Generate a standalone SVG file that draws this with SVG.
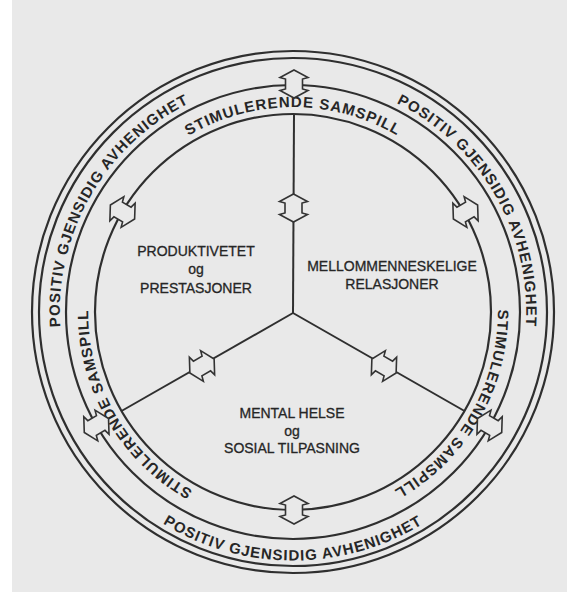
<svg xmlns="http://www.w3.org/2000/svg" xmlns:xlink="http://www.w3.org/1999/xlink" width="569" height="598" viewBox="0 0 569 598">
<style>
.ring{fill:none;stroke:#2f2f2f;stroke-width:2.2}
.spoke{fill:none;stroke:#2f2f2f;stroke-width:2}
.arr{fill:#e9e9e9;stroke:#333333;stroke-width:1.6;stroke-linejoin:miter}
.band{font-family:"Liberation Sans",Arial,sans-serif;font-weight:bold;font-size:15px;letter-spacing:1px;fill:#262626}
.lbl{font-family:"Liberation Sans",Arial,sans-serif;font-size:14px;fill:#262626;stroke:#262626;stroke-width:0.3;text-anchor:middle}
</style>
<defs>
<path id="dbl" d="M0,-14 L14,-6.5 L8.5,-5 L8.5,5 L14,6.5 L0,14 L-14,6.5 L-8.5,5 L-8.5,-5 L-14,-6.5 Z"/>
<path id="m0" d="M88.8,294.1 A205,205 0 0 1 497.2,294.1"/>
<path id="m120" d="M410.6,144.1 A205,205 0 0 1 206.4,497.8"/>
<path id="m240" d="M379.6,497.8 A205,205 0 0 1 175.4,144.1"/>
<path id="o60" d="M194.5,100.8 A233,233 0 0 1 426.6,502.9"/>
<path id="o300" d="M159.4,502.9 A233,233 0 0 1 391.5,100.8"/>
<path id="o180" d="M45.9,333.6 A248,248 0 0 0 540.1,333.6"/>
</defs>
<rect x="0" y="0" width="569" height="598" fill="#ffffff"/>
<rect x="12" y="0" width="555" height="592" fill="#e9e9e9"/>
<g id="rings">
<circle class="ring" cx="293" cy="312" r="261"/>
<circle class="ring" cx="293" cy="312" r="254"/>
<circle class="ring" cx="293" cy="312" r="227"/>
<circle class="ring" cx="293" cy="312" r="198"/>
</g>
<g id="band-texts">
<text class="band"><textPath href="#m0" startOffset="50%" text-anchor="middle">STIMULERENDE SAMSPILL</textPath></text>
<text class="band"><textPath href="#m120" startOffset="50%" text-anchor="middle">STIMULERENDE SAMSPILL</textPath></text>
<text class="band"><textPath href="#m240" startOffset="50%" text-anchor="middle">STIMULERENDE SAMSPILL</textPath></text>
<text class="band"><textPath href="#o60" startOffset="50%" text-anchor="middle">POSITIV GJENSIDIG AVHENIGHET</textPath></text>
<text class="band"><textPath href="#o300" startOffset="50%" text-anchor="middle">POSITIV GJENSIDIG AVHENIGHET</textPath></text>
<text class="band"><textPath href="#o180" startOffset="50%" text-anchor="middle">POSITIV GJENSIDIG AVHENIGHET</textPath></text>
</g>
<g id="connectors">
<line class="spoke" x1="293" y1="313" x2="294" y2="114"/>
<line class="spoke" x1="293" y1="313" x2="464.5" y2="411"/>
<line class="spoke" x1="293" y1="313" x2="121.5" y2="411"/>
<use href="#dbl" class="arr" transform="translate(293.5,208)"/>
<use href="#dbl" class="arr" transform="translate(384,366) rotate(120)"/>
<use href="#dbl" class="arr" transform="translate(202,366) rotate(240)"/>
<use href="#dbl" class="arr" transform="translate(294,84)"/>
<use href="#dbl" class="arr" transform="translate(489.6,425.5) rotate(120)"/>
<use href="#dbl" class="arr" transform="translate(96.4,425.5) rotate(240)"/>
<use href="#dbl" class="arr" transform="translate(465.5,212) rotate(60)"/>
<use href="#dbl" class="arr" transform="translate(294,510) rotate(180)"/>
<use href="#dbl" class="arr" transform="translate(122.5,212) rotate(300)"/>
</g>
<g id="node-produktivitet">
<text class="lbl" x="196" y="256">PRODUKTIVETET</text>
<text class="lbl" x="196" y="274">og</text>
<text class="lbl" x="196" y="293">PRESTASJONER</text>
</g>
<g id="node-relasjoner">
<text class="lbl" x="392" y="271">MELLOMMENNESKELIGE</text>
<text class="lbl" x="392" y="289">RELASJONER</text>
</g>
<g id="node-mental">
<text class="lbl" x="292" y="418">MENTAL HELSE</text>
<text class="lbl" x="292" y="436">og</text>
<text class="lbl" x="292" y="453">SOSIAL TILPASNING</text>
</g>
</svg>
